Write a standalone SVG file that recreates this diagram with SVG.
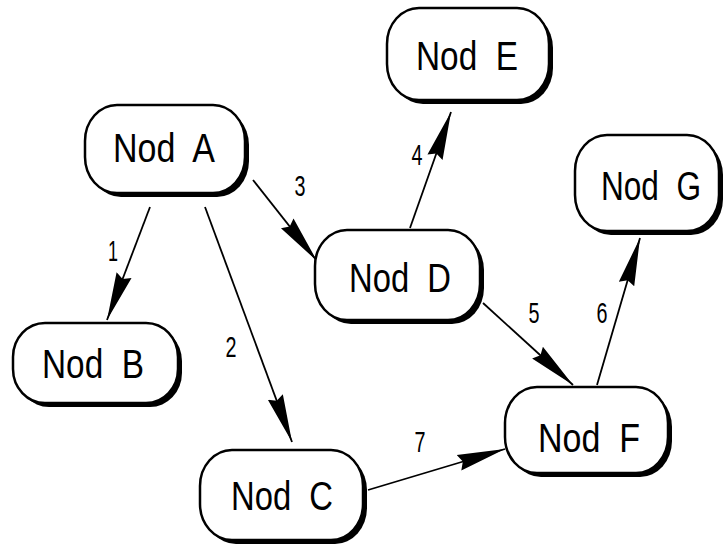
<svg xmlns="http://www.w3.org/2000/svg" width="727" height="553" viewBox="0 0 727 553">
<style>
.sh{fill:#000}
.bx{fill:#fff;stroke:#000;stroke-width:2.5}
.lb{font-family:"Liberation Sans",Arial,sans-serif;font-size:40px;fill:#000;white-space:pre}
.ed{stroke:#000;stroke-width:1.8;fill:none;marker-end:url(#ah)}
.num{font-family:"Liberation Sans",Arial,sans-serif;font-size:30px;fill:#000;text-anchor:middle}
</style>
<defs>
<marker id="ah" markerUnits="userSpaceOnUse" markerWidth="52" markerHeight="20" refX="48" refY="10" orient="auto">
<path d="M48,10 L0,2 L4,10 L0,18 Z" fill="#000"/>
</marker>
</defs>
<rect width="727" height="553" fill="#fff"/>
<g id="edges">
<line class="ed" x1="150" y1="207" x2="107" y2="320"/>
<line class="ed" x1="205" y1="207" x2="292" y2="442"/>
<line class="ed" x1="253" y1="180" x2="317" y2="261"/>
<line class="ed" x1="410" y1="228" x2="451" y2="112"/>
<line class="ed" x1="483" y1="303" x2="573" y2="385"/>
<line class="ed" x1="597" y1="385" x2="640" y2="238"/>
<line class="ed" x1="368" y1="490" x2="505" y2="449"/>
<text class="num" x="113" y="261" textLength="10" lengthAdjust="spacingAndGlyphs">1</text>
<text class="num" x="231" y="357" textLength="11" lengthAdjust="spacingAndGlyphs">2</text>
<text class="num" x="300" y="196" textLength="11" lengthAdjust="spacingAndGlyphs">3</text>
<text class="num" x="417" y="165" textLength="11" lengthAdjust="spacingAndGlyphs">4</text>
<text class="num" x="534" y="323" textLength="11" lengthAdjust="spacingAndGlyphs">5</text>
<text class="num" x="602" y="323" textLength="11" lengthAdjust="spacingAndGlyphs">6</text>
<text class="num" x="420" y="452" textLength="11" lengthAdjust="spacingAndGlyphs">7</text>
</g>
<g id="nodeA">
<rect class="sh" x="89" y="109" width="160" height="88" rx="32" ry="36"/>
<rect class="bx" x="85" y="105" width="160" height="88" rx="32" ry="36"/>
<text class="lb" x="113" y="162" textLength="102" lengthAdjust="spacingAndGlyphs">Nod  A</text>
</g>
<g id="nodeB">
<rect class="sh" x="17" y="327" width="165" height="80" rx="32" ry="34"/>
<rect class="bx" x="13" y="323" width="165" height="80" rx="32" ry="34"/>
<text class="lb" x="42" y="378" textLength="102" lengthAdjust="spacingAndGlyphs">Nod  B</text>
</g>
<g id="nodeC">
<rect class="sh" x="204" y="454" width="163" height="90" rx="32" ry="36"/>
<rect class="bx" x="200" y="450" width="163" height="90" rx="32" ry="36"/>
<text class="lb" x="231" y="510" textLength="102" lengthAdjust="spacingAndGlyphs">Nod  C</text>
</g>
<g id="nodeD">
<rect class="sh" x="319" y="234" width="165" height="90" rx="32" ry="36"/>
<rect class="bx" x="315" y="230" width="165" height="90" rx="32" ry="36"/>
<text class="lb" x="349" y="292" textLength="102" lengthAdjust="spacingAndGlyphs">Nod  D</text>
</g>
<g id="nodeE">
<rect class="sh" x="391" y="12" width="162" height="92" rx="32" ry="36"/>
<rect class="bx" x="387" y="8" width="162" height="92" rx="32" ry="36"/>
<text class="lb" x="416" y="70" textLength="102" lengthAdjust="spacingAndGlyphs">Nod  E</text>
</g>
<g id="nodeF">
<rect class="sh" x="509" y="391" width="163" height="86" rx="32" ry="36"/>
<rect class="bx" x="505" y="387" width="163" height="86" rx="32" ry="36"/>
<text class="lb" x="538" y="452" textLength="102" lengthAdjust="spacingAndGlyphs">Nod  F</text>
</g>
<g id="nodeG">
<rect class="sh" x="579" y="139" width="144" height="96" rx="32" ry="36"/>
<rect class="bx" x="575" y="135" width="144" height="96" rx="32" ry="36"/>
<text class="lb" x="601" y="200" textLength="100" lengthAdjust="spacingAndGlyphs">Nod  G</text>
</g>
</svg>
